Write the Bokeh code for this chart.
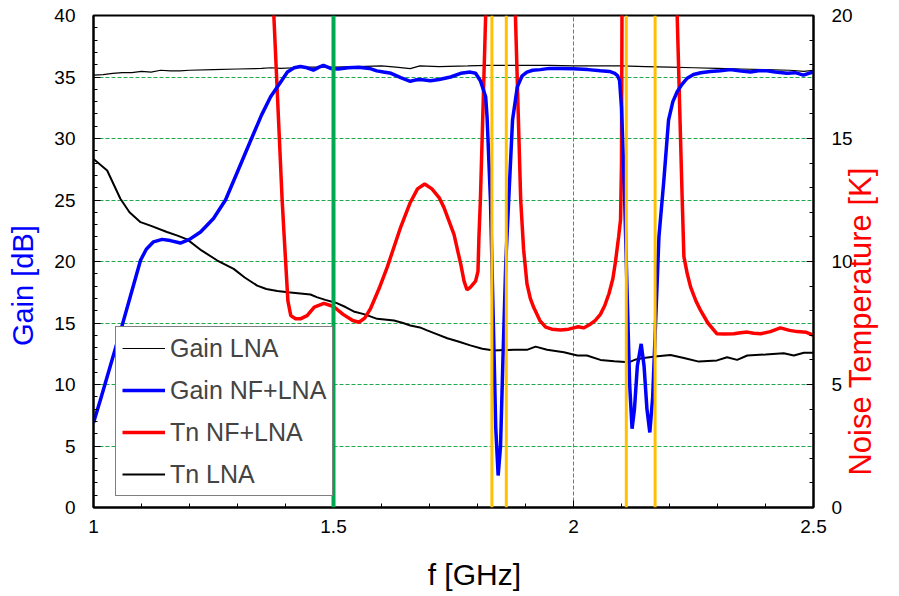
import numpy as np
from bokeh.plotting import figure
from bokeh.models import (Range1d, LinearAxis, FixedTicker, Span, Legend, LegendItem)
from bokeh.embed import file_html
from bokeh.resources import INLINE

# ---------------- data ----------------
gain_lna_f = [1.0, 1.02, 1.04, 1.06, 1.08, 1.1, 1.12, 1.14, 1.16, 1.18, 1.2, 1.25, 1.3, 1.35, 1.37, 1.39,
              1.42, 1.45, 1.5, 1.55, 1.6, 1.63, 1.66, 1.68, 1.72, 1.78, 1.82, 1.88, 1.95, 2.0, 2.05, 2.1,
              2.15, 2.2, 2.25, 2.3, 2.35, 2.4, 2.45, 2.48, 2.5]
gain_lna = [35.15, 35.2, 35.3, 35.35, 35.35, 35.45, 35.4, 35.55, 35.5, 35.5, 35.55, 35.6, 35.65, 35.7, 35.75, 35.7,
            35.75, 35.8, 35.8, 35.85, 35.9, 35.8, 35.68, 35.9, 35.85, 35.9, 35.95, 35.95, 35.95, 35.9, 35.9, 35.9,
            35.85, 35.8, 35.75, 35.7, 35.65, 35.6, 35.55, 35.45, 35.55]

gain_nf_f = [1.0, 1.014, 1.035, 1.056, 1.077, 1.098, 1.11, 1.125, 1.143, 1.16, 1.181, 1.2, 1.223, 1.25, 1.275, 1.3,
             1.327, 1.35, 1.369, 1.39, 1.404, 1.418, 1.431, 1.445, 1.458, 1.47, 1.479, 1.494, 1.51, 1.53, 1.552,
             1.575, 1.59, 1.604, 1.62, 1.64, 1.66, 1.67, 1.681, 1.702, 1.72, 1.744, 1.765, 1.785, 1.796, 1.806,
             1.817, 1.820, 1.827, 1.833, 1.838, 1.843, 1.848, 1.853, 1.859, 1.865, 1.873, 1.883, 1.893, 1.903,
             1.915, 1.931, 1.95, 1.973, 2.0, 2.03, 2.056, 2.075, 2.086, 2.092, 2.096, 2.100, 2.106, 2.112, 2.117,
             2.122, 2.127, 2.133, 2.141, 2.147, 2.153, 2.159, 2.165, 2.171, 2.178, 2.188, 2.198, 2.207, 2.216,
             2.226, 2.237, 2.25, 2.265, 2.285, 2.306, 2.327, 2.345, 2.369, 2.385, 2.403, 2.42, 2.445, 2.462,
             2.479, 2.49, 2.5]
gain_nf = [6.9, 8.7, 11.5, 14.3, 17.2, 20.1, 21.0, 21.6, 21.8, 21.7, 21.5, 21.8, 22.4, 23.5, 25.0, 27.3,
           29.8, 31.9, 33.4, 34.6, 35.4, 35.75, 35.85, 35.75, 35.55, 35.8, 35.95, 35.7, 35.65, 35.75, 35.8,
           35.7, 35.5, 35.4, 35.3, 34.95, 34.65, 34.75, 34.8, 34.7, 34.8, 35.0, 35.3, 35.4, 35.3, 34.7,
           33.4, 31.7, 25.0, 15.0, 6.5, 2.6, 5.0, 12.0, 20.0, 25.0, 31.5, 34.2, 35.1, 35.4,
           35.55, 35.6, 35.7, 35.7, 35.68, 35.6, 35.5, 35.45, 35.3, 35.1, 34.7, 32.5, 26.0, 17.0, 10.0,
           6.4, 8.0, 11.5, 13.3, 11.5, 8.0, 6.1, 9.0, 15.0, 22.0, 26.5, 31.5, 33.0, 33.8,
           34.4, 34.9, 35.2, 35.35, 35.45, 35.5, 35.6, 35.5, 35.4, 35.5, 35.5, 35.4, 35.3, 35.35,
           35.15, 35.3, 35.4]

tn_nf_f = [1.370, 1.3757, 1.393, 1.397, 1.405, 1.411, 1.421, 1.431, 1.445, 1.46, 1.48, 1.50, 1.52, 1.54,
           1.553, 1.565, 1.577, 1.595, 1.612, 1.64, 1.66, 1.675, 1.69, 1.705, 1.72, 1.73, 1.751, 1.765,
           1.772, 1.778, 1.785, 1.796, 1.801, 1.803, 1.806, 1.817, 1.821, 1.875, 1.879, 1.890, 1.896, 1.903,
           1.91, 1.917, 1.93, 1.942, 1.955, 1.973, 1.99, 2.0, 2.01, 2.021, 2.035, 2.045, 2.056, 2.065, 2.074,
           2.082, 2.0875, 2.094, 2.098, 2.100, 2.101, 2.103, 2.214, 2.216, 2.2265, 2.230, 2.237, 2.244, 2.255,
           2.265, 2.28, 2.299, 2.315, 2.334, 2.348, 2.362, 2.375, 2.39, 2.41, 2.431, 2.45, 2.466, 2.485, 2.5]
tn_nf = [22.5, 20.0, 12.5, 11.1, 8.4, 7.8, 7.67, 7.67, 7.8, 8.15, 8.3, 8.17, 7.85, 7.6,
         7.53, 7.7, 8.08, 8.9, 9.77, 11.4, 12.4, 12.95, 13.15, 12.95, 12.6, 12.2, 11.1, 9.9,
         9.2, 8.85, 8.95, 9.2, 9.6, 11.0, 12.5, 20.0, 23.0, 23.0, 20.0, 12.5, 10.5, 9.1,
         8.5, 8.14, 7.6, 7.33, 7.25, 7.22, 7.25, 7.3, 7.35, 7.3, 7.45, 7.6, 7.85, 8.2, 8.7,
         9.3, 10.0, 11.0, 11.7, 14.0, 20.0, 23.0, 23.0, 20.0, 12.5, 10.2, 9.5, 8.96, 8.4,
         8.0, 7.5, 7.06, 7.05, 7.06, 7.1, 7.13, 7.08, 7.06, 7.15, 7.3, 7.2, 7.15, 7.12, 7.0]

tn_lna_f = [1.0, 1.0285, 1.056, 1.075, 1.098, 1.12, 1.153, 1.175, 1.195, 1.225, 1.258, 1.292, 1.315, 1.341,
            1.36, 1.383, 1.405, 1.431, 1.452, 1.465, 1.483, 1.508, 1.525, 1.542, 1.565, 1.591, 1.626, 1.645,
            1.66, 1.68, 1.695, 1.715, 1.737, 1.76, 1.785, 1.81, 1.834, 1.855, 1.876, 1.903, 1.921, 1.945,
            1.98, 2.008, 2.028, 2.056, 2.085, 2.115, 2.13, 2.146, 2.175, 2.202, 2.23, 2.261, 2.299, 2.32,
            2.341, 2.362, 2.4, 2.438, 2.459, 2.48, 2.5]
tn_lna = [14.17, 13.7, 12.55, 12.0, 11.6, 11.45, 11.2, 11.05, 10.9, 10.45, 10.04, 9.7, 9.35, 9.02,
          8.88, 8.8, 8.75, 8.7, 8.66, 8.55, 8.44, 8.3, 8.15, 7.97, 7.85, 7.67, 7.6, 7.5,
          7.4, 7.32, 7.2, 7.05, 6.88, 6.75, 6.59, 6.45, 6.38, 6.4, 6.41, 6.41, 6.54, 6.41,
          6.31, 6.18, 6.18, 6.0, 5.95, 5.9, 6.02, 6.08, 6.15, 6.2, 6.08, 5.93, 5.98, 6.11,
          6.0, 6.18, 6.22, 6.27, 6.18, 6.29, 6.29]

green_marker_f = [1.5]
orange_marker_f = [1.83, 1.86, 2.11, 2.17]

x_ticks = [1.0, 1.5, 2.0, 2.5]
x_tick_labels = ["1", "1.5", "2", "2.5"]
x_minor = [1.1, 1.2, 1.3, 1.4, 1.6, 1.7, 1.8, 1.9, 2.1, 2.2, 2.3, 2.4]
y_ticks = [0, 5, 10, 15, 20, 25, 30, 35, 40]
y_minor = [v for v in range(0, 41) if v % 5]
y2_ticks = [0, 5, 10, 15, 20]
y2_minor = [v for v in range(0, 21) if v % 5]

x_title = "f [GHz]"
y_title = "Gain [dB]"
y2_title = "Noise Temperature [K]"

FONT = "Liberation Sans"
GRID = "#1faa50"
NB = "\u00a0"
Y2_TITLE_START = 1.3   # where the right-hand title starts (in K), off-centre as in the original

p = figure(width=899, height=596, output_backend="svg", toolbar_location=None,
           x_range=Range1d(1.0, 2.5), y_range=Range1d(0, 40),
           min_border_left=93, min_border_right=86, min_border_top=15, min_border_bottom=89,
           background_fill_color="white", border_fill_color="white")
p.extra_y_ranges = {"tn": Range1d(0, 20)}
p.outline_line_color = "black"
p.outline_line_width = 2

# axes
p.xaxis.ticker = FixedTicker(ticks=x_ticks, minor_ticks=x_minor)
p.xaxis.major_label_overrides = {t: l for t, l in zip(x_ticks, x_tick_labels)}
p.yaxis.ticker = FixedTicker(ticks=y_ticks, minor_ticks=y_minor)
# non-breaking spaces shift the titles off-centre as in the original
p.xaxis.axis_label = NB * 5 + x_title
p.yaxis.axis_label = y_title + NB * 6
p.yaxis.axis_label_text_color = "#0000ff"

ax2 = LinearAxis(y_range_name="tn", ticker=FixedTicker(ticks=y2_ticks, minor_ticks=y2_minor))
p.add_layout(ax2, "right")

for ax in [p.xaxis[0], p.yaxis[0], ax2]:
    ax.axis_line_color = "black"
    ax.axis_line_width = 2
    ax.major_tick_in = 7
    ax.major_tick_out = 0
    ax.minor_tick_in = 4
    ax.minor_tick_out = 0
    ax.major_tick_line_color = "black"
    ax.minor_tick_line_color = "black"
    ax.major_label_text_font = FONT
    ax.major_label_text_font_size = "19px"
    ax.major_label_text_color = "black"
    ax.axis_label_text_font = FONT
    ax.axis_label_text_font_style = "normal"
p.xaxis.axis_label_text_color = "black"
p.xaxis.axis_label_text_font_size = "30px"
p.yaxis.axis_label_text_font_size = "29px"
p.xaxis.major_label_standoff = 12
p.yaxis.major_label_standoff = 18
ax2.major_label_standoff = 18
p.xaxis.axis_label_standoff = 22
p.yaxis.axis_label_standoff = 12

# right-hand title, reading bottom to top, drawn as the single label of an outer axis
ax3 = LinearAxis(y_range_name="tn", ticker=FixedTicker(ticks=[Y2_TITLE_START], minor_ticks=[]),
                 major_label_overrides={Y2_TITLE_START: y2_title}, major_label_orientation=np.pi / 2,
                 axis_line_color=None, major_tick_line_color=None, minor_tick_line_color=None,
                 major_tick_in=0, major_tick_out=0, minor_tick_in=0, minor_tick_out=0,
                 major_label_standoff=5, major_label_text_font=FONT,
                 major_label_text_font_size="31px", major_label_text_color="#ff0000")
p.add_layout(ax3, "right")

# grid
p.xgrid.ticker = FixedTicker(ticks=x_ticks)
p.ygrid.ticker = FixedTicker(ticks=y_ticks)
for g in [p.xgrid[0], p.ygrid[0]]:
    g.grid_line_color = GRID
    g.grid_line_dash = "4 2"
    g.grid_line_width = 1

# curves
r_gl = p.line(gain_lna_f, gain_lna, line_color="black", line_width=1.2)
r_tl = p.line(tn_lna_f, tn_lna, line_color="black", line_width=2, y_range_name="tn")
r_tn = p.line(tn_nf_f, tn_nf, line_color="#ff0000", line_width=3.5, y_range_name="tn")
r_gn = p.line(gain_nf_f, gain_nf, line_color="#0000ff", line_width=3.5)

for f in green_marker_f:
    p.add_layout(Span(location=f, dimension="height", line_color="#00a84f", line_width=4))
for f in orange_marker_f:
    p.add_layout(Span(location=f, dimension="height", line_color="#ffc000", line_width=3))

legend = Legend(items=[LegendItem(label="Gain LNA", renderers=[r_gl]),
                       LegendItem(label="Gain NF+LNA", renderers=[r_gn]),
                       LegendItem(label="Tn NF+LNA", renderers=[r_tn]),
                       LegendItem(label="Tn LNA", renderers=[r_tl])],
                location=(22, 11), label_text_font=FONT, label_text_font_size="25px",
                glyph_width=43, glyph_height=30, label_height=30, spacing=12, padding=6,
                label_standoff=5, border_line_color="black", border_line_width=1,
                background_fill_alpha=1.0, margin=0)
p.add_layout(legend, "center")

open("out.html", "w").write(file_html(p, INLINE))
